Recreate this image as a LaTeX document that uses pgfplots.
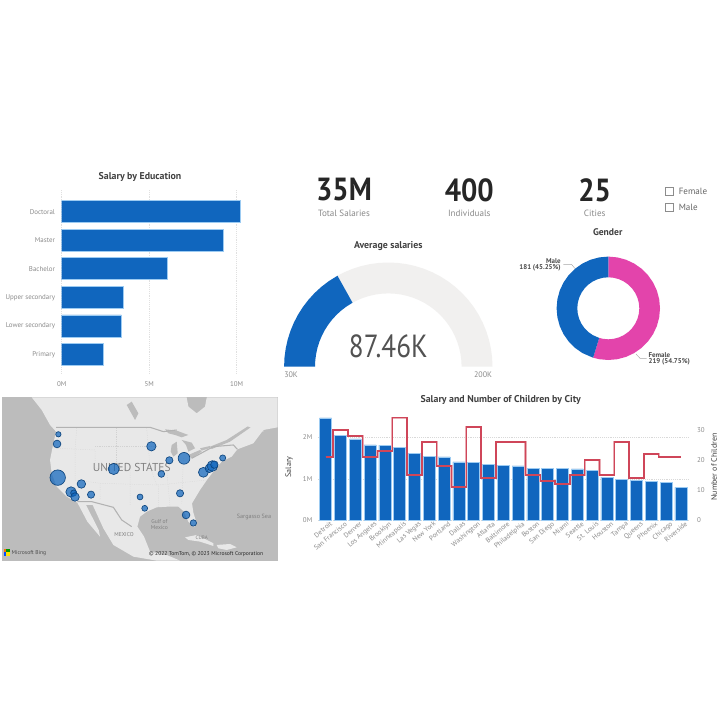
\documentclass[border=0pt]{standalone}
\usepackage{fontspec}
\setmainfont{PT Sans}
\usepackage{pgfplots}
\usepackage{pgfplotstable}
\pgfplotsset{compat=1.18}
\definecolor{pbi}{HTML}{1066BE}
\definecolor{pbil}{HTML}{9CCBF2}
\definecolor{pink}{HTML}{E344AB}
\definecolor{tick}{HTML}{8A8A8A}
\definecolor{ttl}{HTML}{404040}
\definecolor{redl}{HTML}{CF4659}
\definecolor{gaugeg}{HTML}{F1F0EF}
\definecolor{water}{HTML}{BCBCBC}
\definecolor{land}{HTML}{E8E8E8}
\definecolor{bord}{HTML}{B2B2B2}
\definecolor{stl}{HTML}{D2D2D2}
\newcommand\tf[1]{\fontsize{#1}{#1}\selectfont}
\pgfplotstableread{
x y r
175 133 2.0
171 162 2.9
173 263 5.8
244 282 3.2
213 306 3.9
221 309 2.3
225 321 3.2
273 314 2.7
341 237 4.2
454 169 3.5
508 211 2.7
552 205 4.4
484 252 2.5
420 321 2.2
434 355 2.2
540 310 2.7
558 375 2.9
580 399 2.4
610 247 3.7
628 235 3.2
637 228 4.0
643 224 2.8
668 204 2.3
}\bubbles
\pgfplotstableread{
i sal kids
0 2.47 21
1 2.04 30
2 1.96 28
3 1.82 21
4 1.81 23
5 1.75 34
6 1.61 15
7 1.54 26
8 1.53 18
9 1.41 11
10 1.39 31
11 1.35 14
12 1.33 26
13 1.31 26
14 1.25 15
15 1.245 13
16 1.245 12
17 1.24 15
18 1.20 20
19 1.04 15
20 0.98 26
21 0.955 14
22 0.94 22
23 0.91 21
24 0.795 21
}\city
\begin{document}
\begin{tikzpicture}[x=0.75pt,y=-0.75pt]
\path[fill=white] (0,0) rectangle (720,720);
% ---- Salary by education
\node[font=\tf{7.4},text=ttl] at (140,177.3) {\textbf{Salary by Education}};
\begin{axis}[at={(46.275pt,-142.5pt)},anchor=north west,scale only axis,width=137.8pt,height=137.25pt,
 xbar,bar width=16.5pt,bar shift=0pt,xmin=0,xmax=10.5,ymin=-0.76,ymax=5.65,y dir=reverse,
 ytick={0,...,5},yticklabels={Doctoral,Master,Bachelor,Upper secondary,Lower secondary,Primary},
 xtick={0,5,10},xticklabels={0M,5M,10M},
 axis line style={draw=none},major tick length=0pt,
 xmajorgrids,grid style={densely dotted,draw=black!12},
 tick label style={font=\tf{5.2},text=tick},
 xticklabel style={yshift=-3pt},yticklabel style={xshift=-1.5pt}]
\addplot[fill=pbi,draw=pbil,line width=0.5pt] coordinates {(10.23,0)(9.26,1)(6.06,2)(3.52,3)(3.41,4)(2.38,5)};
\end{axis}
% ---- KPIs
\foreach \xx/\big/\small in {344/35M/Total Salaries,469.3/400/Individuals,594.7/25/Cities}{
 \node[font=\tf{24},text=black!85] at (\xx,190) {\scalebox{0.9}[1]{\textbf{\big}}};
 \node[font=\tf{6.8},text=tick] at (\xx,213.7) {\small};
}
% ---- Slicer
\draw[draw=black!45,line width=0.4pt] (665,187) rectangle (673.6,195.4);
\draw[draw=black!45,line width=0.4pt] (665,203) rectangle (673.6,211.4);
\node[font=\tf{6.8},text=black!60,anchor=west,inner sep=0pt] at (678.5,191.5) {Female};
\node[font=\tf{6.8},text=black!60,anchor=west,inner sep=0pt] at (678.5,207.5) {Male};
% ---- Gauge
\node[font=\tf{7.4},text=ttl] at (388.3,246) {\textbf{Average salaries}};
\begin{axis}[at={(208.725pt,-192.525pt)},anchor=north west,scale only axis,width=165pt,height=86.25pt,
 xmin=-110,xmax=110,ymin=-5,ymax=110,hide axis,clip=false,data cs=polar]
\addplot[fill=gaugeg,draw=none] coordinates {(119.2,104.2)(115,104.2)(110,104.2)(105,104.2)(100,104.2)(95,104.2)(90,104.2)(85,104.2)(80,104.2)(75,104.2)(70,104.2)(65,104.2)(60,104.2)(55,104.2)(50,104.2)(45,104.2)(40,104.2)(35,104.2)(30,104.2)(25,104.2)(20,104.2)(15,104.2)(10,104.2)(5,104.2)(0,104.2)(0,73.3)(5,73.3)(10,73.3)(15,73.3)(20,73.3)(25,73.3)(30,73.3)(35,73.3)(40,73.3)(45,73.3)(50,73.3)(55,73.3)(60,73.3)(65,73.3)(70,73.3)(75,73.3)(80,73.3)(85,73.3)(90,73.3)(95,73.3)(100,73.3)(105,73.3)(110,73.3)(115,73.3)(119.2,73.3)} --cycle;
\addplot[fill=pbi,draw=none] coordinates {(180,104.2)(175,104.2)(170,104.2)(165,104.2)(160,104.2)(155,104.2)(150,104.2)(145,104.2)(140,104.2)(135,104.2)(130,104.2)(125,104.2)(119.2,104.2)(119.2,73.3)(125,73.3)(130,73.3)(135,73.3)(140,73.3)(145,73.3)(150,73.3)(155,73.3)(160,73.3)(165,73.3)(170,73.3)(175,73.3)(180,73.3)} --cycle;
\end{axis}
\node[font=\tf{24},text=black!68] at (388.3,346.7) {\scalebox{0.85}[1]{87.46K}};
\node[font=\tf{6},text=tick,anchor=west,inner sep=0pt] at (284,375) {30K};
\node[font=\tf{6},text=tick,anchor=east,inner sep=0pt] at (492.3,375) {200K};
% ---- Donut
\node[font=\tf{7.2},text=ttl] at (607.7,232) {\textbf{Gender}};
\begin{axis}[at={(411.225pt,-186.225pt)},anchor=north west,scale only axis,width=90pt,height=90pt,
 xmin=-60,xmax=60,ymin=-60,ymax=60,hide axis,clip=false,data cs=polar]
\addplot[fill=pink,draw=none] coordinates {(90,51.7)(80,51.7)(70,51.7)(60,51.7)(50,51.7)(40,51.7)(30,51.7)(20,51.7)(10,51.7)(0,51.7)(-10,51.7)(-20,51.7)(-30,51.7)(-40,51.7)(-50,51.7)(-60,51.7)(-70,51.7)(-80,51.7)(-90,51.7)(-100,51.7)(-107.1,51.7)(-107.1,31)(-100,31)(-90,31)(-80,31)(-70,31)(-60,31)(-50,31)(-40,31)(-30,31)(-20,31)(-10,31)(0,31)(10,31)(20,31)(30,31)(40,31)(50,31)(60,31)(70,31)(80,31)(90,31)} --cycle;
\addplot[fill=pbi,draw=none] coordinates {(90,51.7)(100,51.7)(110,51.7)(120,51.7)(130,51.7)(140,51.7)(150,51.7)(160,51.7)(170,51.7)(180,51.7)(190,51.7)(200,51.7)(210,51.7)(220,51.7)(230,51.7)(240,51.7)(252.9,51.7)(252.9,31)(240,31)(230,31)(220,31)(210,31)(200,31)(190,31)(180,31)(170,31)(160,31)(150,31)(140,31)(130,31)(120,31)(110,31)(100,31)(90,31)} --cycle;
\end{axis}
\draw[draw=black!35,line width=0.3pt] (563.3,264.3)--(571.5,264.3)--(575,268.5);
\draw[draw=black!35,line width=0.3pt] (646.7,358.3)--(640,358.3)--(636,354);
\node[font=\tf{5.2},text=black!70,anchor=east,inner sep=0pt,align=right] at (561,265) {\textbf{Male}\\[-0.5pt]\textbf{181 (45.25\%)}};
\node[font=\tf{5.2},text=black!70,anchor=west,inner sep=0pt,align=left] at (648.3,358.7) {\textbf{Female}\\[-0.5pt]\textbf{219 (54.75\%)}};
% ---- Map
\begin{axis}[at={(1.275pt,-297.975pt)},anchor=north west,scale only axis,width=207pt,height=122.5pt,
 xmin=5,xmax=833,ymin=22,ymax=512,y dir=reverse,hide axis,clip=true,
 axis background/.style={fill=water}]
\addplot[fill=land,draw=none] coordinates {(95,22)(125,60)(150,105)(168,125)(160,160)(150,210)(155,250)(170,290)(200,320)(232,338)(262,395)(300,440)(296,420)(258,345)(278,345)(310,415)(340,465)(400,500)(470,512)(540,512)(500,495)(450,485)(432,440)(412,410)(420,380)(440,365)(470,352)(505,350)(535,350)(552,365)(565,395)(582,412)(590,400)(580,368)(576,340)(600,300)(622,268)(640,245)(665,215)(695,200)(712,178)(760,160)(790,120)(833,112)(833,22)(620,22)(615,50)(590,70)(565,50)(560,22)} --cycle;
% lakes
\addplot[fill=water,draw=none] coordinates {(495,118)(530,122)(565,135)(545,142)(525,135)(505,130)} --cycle;
\addplot[fill=water,draw=none] coordinates {(515,165)(530,155)(533,190)(520,200)(512,185)} --cycle;
\addplot[fill=water,draw=none] coordinates {(545,150)(575,158)(585,175)(565,185)(558,165)} --cycle;
\addplot[fill=water,draw=none] coordinates {(565,195)(600,180)(605,185)(575,205)} --cycle;
\addplot[fill=water,draw=none] coordinates {(600,175)(630,168)(630,174)(605,182)} --cycle;
\addplot[fill=water,draw=none] coordinates {(380,45)(395,35)(415,70)(405,90)} --cycle;
\addplot[fill=water,draw=none] coordinates {(560,22)(620,22)(610,45)(590,60)(570,48)} --cycle;
\addplot[fill=water,draw=none] coordinates {(630,170)(680,150)(750,105)(752,112)(690,155)(635,177)} --cycle;
% islands
\addplot[fill=land,draw=none] coordinates {(555,442)(590,435)(640,460)(640,468)(600,455)(565,450)} --cycle;
\addplot[fill=land,draw=none] coordinates {(650,465)(690,462)(710,472)(680,480)(655,475)} --cycle;
\addplot[fill=land,draw=none] coordinates {(740,95)(790,110)(790,125)(745,110)} --cycle;
% state lines
\addplot[stl,densely dotted,line width=0.35pt,forget plot] coordinates {(170,175)(285,180)(285,235)(390,240)(390,345)};
\addplot[stl,densely dotted,line width=0.35pt,forget plot] coordinates {(230,115)(225,180)(225,270)(300,280)(300,330)};
\addplot[stl,densely dotted,line width=0.35pt,forget plot] coordinates {(350,115)(350,235)};
\addplot[stl,densely dotted,line width=0.35pt,forget plot] coordinates {(285,170)(470,170)};
\addplot[stl,densely dotted,line width=0.35pt,forget plot] coordinates {(300,280)(475,285)(475,350)};
\addplot[stl,densely dotted,line width=0.35pt,forget plot] coordinates {(440,115)(450,230)(470,285)};
\addplot[stl,densely dotted,line width=0.35pt,forget plot] coordinates {(475,285)(620,270)};
\addplot[stl,densely dotted,line width=0.35pt,forget plot] coordinates {(500,240)(510,350)};
\addplot[stl,densely dotted,line width=0.35pt,forget plot] coordinates {(550,205)(545,345)};
% borders
\addplot[bord,line width=0.8pt,forget plot] coordinates {(168,112)(450,112)(490,125)(530,120)};
\addplot[bord,line width=0.8pt,forget plot] coordinates {(575,205)(640,170)(700,165)(712,178)};
\addplot[bord,line width=0.8pt,forget plot] coordinates {(232,335)(275,335)(340,352)(365,390)(395,410)};
\node[font=\tf{8.6},text=black!50] at (axis cs:395,233) {UNITED STATES};
\node[font=\tf{4.2},text=black!50,align=center] at (axis cs:478,403) {Gulf of\\Mexico};
\node[font=\tf{4.2},text=black!50] at (axis cs:372,435) {MEXICO};
\node[font=\tf{4.6},text=black!50] at (axis cs:762,380) {Sargasso Sea};
\node[font=\tf{3.8},text=black!50] at (axis cs:605,442) {CUBA};
\addplot[only marks,scatter,mark=*,point meta=y,
  scatter/use mapped color={draw=pbi!65!black,fill=pbi},
  mark options={fill opacity=0.72,draw opacity=0.95,line width=0.5pt},
  visualization depends on={\thisrow{r}\as\rr},
  scatter/@pre marker code/.append style={/tikz/mark size=\rr}] table[x=x,y=y] {\bubbles};
\node[font=\tf{4.2},text=black!70,anchor=west,inner sep=0pt] at (axis cs:34,488) {Microsoft Bing};
\node[font=\tf{4.2},text=black!85,anchor=east,inner sep=0pt] at (axis cs:790,491) {© 2022 TomTom, © 2023 Microsoft Corporation};
\addplot[only marks,mark=square*,mark size=1pt,color=orange!90!red,forget plot] coordinates {(17,482)};
\addplot[only marks,mark=square*,mark size=1pt,color=green!60!black,forget plot] coordinates {(24,482)};
\addplot[only marks,mark=square*,mark size=1pt,color=blue!70!cyan,forget plot] coordinates {(17,492)};
\addplot[only marks,mark=square*,mark size=1pt,color=yellow!85!orange,forget plot] coordinates {(24,492)};
\end{axis}
% ---- Combo
\node[font=\tf{7.4},text=ttl] at (500.7,400) {\textbf{Salary and Number of Children by City}};
\node[font=\tf{6},text=ttl,rotate=90] at (289,467) {Salary};
\node[font=\tf{6},text=ttl,rotate=90] at (714,467) {Number of Children};
\begin{axis}[at={(238.725pt,-311.25pt)},anchor=north west,scale only axis,width=277.5pt,height=79pt,
 ybar,bar width=9pt,bar shift=0pt,xmin=-0.5,xmax=24.5,ymin=0,ymax=2.537,
 ytick={0,1,2},yticklabels={0M,1M,2M},
 xtick={0,...,24},
 xticklabels={Detroit,San Francisco,Denver,Los Angeles,Brooklyn,Minneapolis,Las Vegas,New York,Portland,Dallas,Washington,Atlanta,Baltimore,Philadelphia,Boston,San Diego,Miami,Seattle,St. Louis,Houston,Tampa,Queens,Phoenix,Chicago,Riverside},
 axis line style={draw=none},major tick length=0pt,
 ymajorgrids,grid style={densely dotted,draw=black!15},
 tick label style={font=\tf{5.2},text=tick},
 xticklabel style={rotate=40,anchor=north east,inner sep=1pt,xshift=3pt,yshift=-1pt},
 yticklabel style={xshift=-1pt}]
\addplot[fill=pbi,draw=pbil,line width=0.4pt] table[x=i,y=sal] {\city};
\end{axis}
\begin{axis}[at={(238.725pt,-311.25pt)},anchor=north west,scale only axis,width=277.5pt,height=79pt,
 xmin=-0.5,xmax=24.5,ymin=0,ymax=34.9,axis y line*=right,axis x line=none,
 ytick={0,10,20,30},axis line style={draw=none},major tick length=0pt,
 /pgf/number format/assume math mode=true,
 tick label style={font=\tf{5.2},text=tick},
 yticklabel style={xshift=3pt}]
\addplot[const plot mark mid,draw=redl!45!white,line width=1.7pt,forget plot] table[x=i,y=kids] {\city};
\addplot[const plot mark mid,draw=redl,line width=1.15pt] table[x=i,y=kids] {\city};
\end{axis}
\pgfresetboundingbox
\path (0,0) rectangle (720,720);
\end{tikzpicture}
\end{document}
